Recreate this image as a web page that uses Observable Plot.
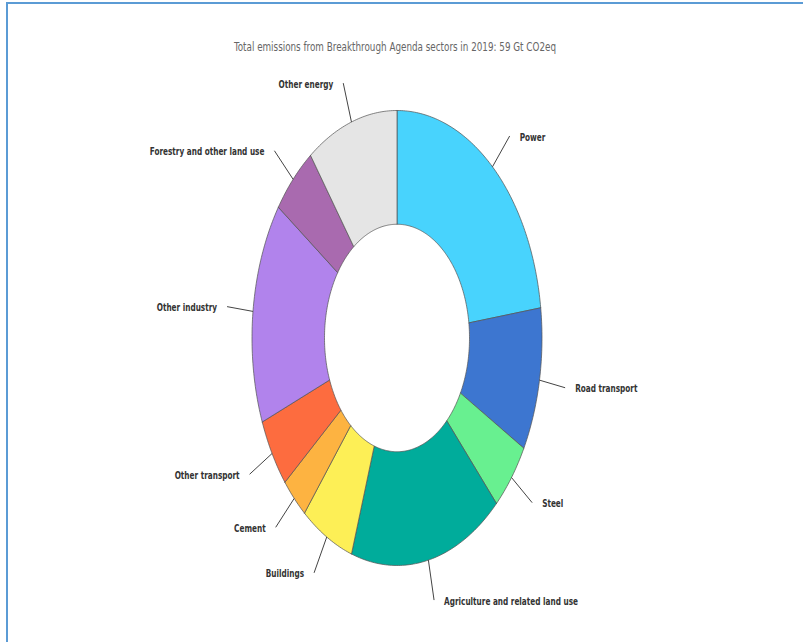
<!DOCTYPE html>
<html><head><meta charset="utf-8">
<script src="https://cdn.jsdelivr.net/npm/d3@7"></script>
<script src="https://cdn.jsdelivr.net/npm/@observablehq/plot@0.6"></script>
<style>
html,body{margin:0;padding:0;background:#fff;}
#wrap{position:relative;width:803px;height:642px;overflow:hidden;}
#frame{position:absolute;left:6px;top:2px;width:830px;height:670px;border-top:2px solid #5b9bd5;border-left:2px solid #5b9bd5;}
#title{position:absolute;top:40px;left:0;width:790px;text-align:center;font-family:"DejaVu Sans Condensed",sans-serif;font-size:11.5px;color:#666;transform:scaleX(0.85);transform-origin:395px 0;}
#chart{position:absolute;left:0;top:0;}
</style>
</head><body>
<div id="wrap"><div id="frame"></div><div id="chart"></div><div id="title"></div></div>
<script>
const title = "Total emissions from Breakthrough Agenda sectors in 2019: 59 Gt CO2eq";
const sectors = ["Power","Road transport","Steel","Agriculture and related land use","Buildings","Cement","Other transport","Other industry","Forestry and other land use","Other energy"];
const values = [13.5, 6.0, 2.9, 10.1, 3.5, 1.8, 2.9, 9.3, 3.0, 6.0]; // Gt CO2eq (estimated)
const colors = ["#48d3fd","#3d76d0","#68f090","#00ac9b","#fdef56","#fdb341","#fd6c3f","#b183ec","#a96aaf","#e5e5e5"];

document.getElementById("title").textContent = title;

const INNER = 0.5, LEAD = 1.18;
const arcs = d3.pie().sort(null).value(d => d)(values);

const poly = [];
arcs.forEach((a, i) => {
  const s = sectors[i];
  const n = Math.max(6, Math.ceil((a.endAngle - a.startAngle) / 0.015));
  let first = null;
  for (let k = 0; k <= n; k++) {
    const t = a.startAngle + (a.endAngle - a.startAngle) * k / n;
    const p = {sector: s, x: Math.sin(t), y: Math.cos(t)};
    if (!first) first = p;
    poly.push(p);
  }
  for (let k = n; k >= 0; k--) {
    const t = a.startAngle + (a.endAngle - a.startAngle) * k / n;
    poly.push({sector: s, x: INNER * Math.sin(t), y: INNER * Math.cos(t)});
  }
  poly.push({...first});
});

const labels = arcs.map((a, i) => {
  const m = (a.startAngle + a.endAngle) / 2;
  return {
    sector: sectors[i],
    x1: Math.sin(m), y1: Math.cos(m),
    x2: LEAD * Math.sin(m), y2: LEAD * Math.cos(m),
    right: Math.sin(m) > 0
  };
});

const font = "'DejaVu Sans Condensed',sans-serif";

const chart = Plot.plot({
  width: 803,
  height: 642,
  margin: 0,
  x: {domain: [-1, 1], range: [251.5, 541.5], axis: null},
  y: {domain: [-1, 1], range: [565, 110], axis: null},
  color: {domain: sectors, range: colors},
  style: {background: "transparent", fontFamily: font},
  marks: [
    Plot.line(poly, {x: "x", y: "y", z: "sector", fill: "sector", stroke: "#555", strokeWidth: 0.8, strokeOpacity: 0.9}),
    Plot.link(labels, {x1: "x1", y1: "y1", x2: "x2", y2: "y2", stroke: "#444", strokeWidth: 1}),
    Plot.text(labels.filter(d => d.right), {x: "x2", y: "y2", text: "sector", textAnchor: "start", dx: 10, dy: 1, fill: "#333", fontSize: 11, fontWeight: 700, fontFamily: font}),
    Plot.text(labels.filter(d => !d.right), {x: "x2", y: "y2", text: "sector", textAnchor: "end", dx: -10, dy: 1, fill: "#333", fontSize: 11, fontWeight: 700, fontFamily: font})
  ]
});
// condensed look for the labels (the reference uses a narrow typeface)
chart.querySelectorAll('g[aria-label="text"] text').forEach(t => {
  const tr = t.getAttribute("transform") || "";
  t.setAttribute("transform", tr + " scale(0.74,1)");
});
document.getElementById("chart").appendChild(chart);
</script>
</body></html>
